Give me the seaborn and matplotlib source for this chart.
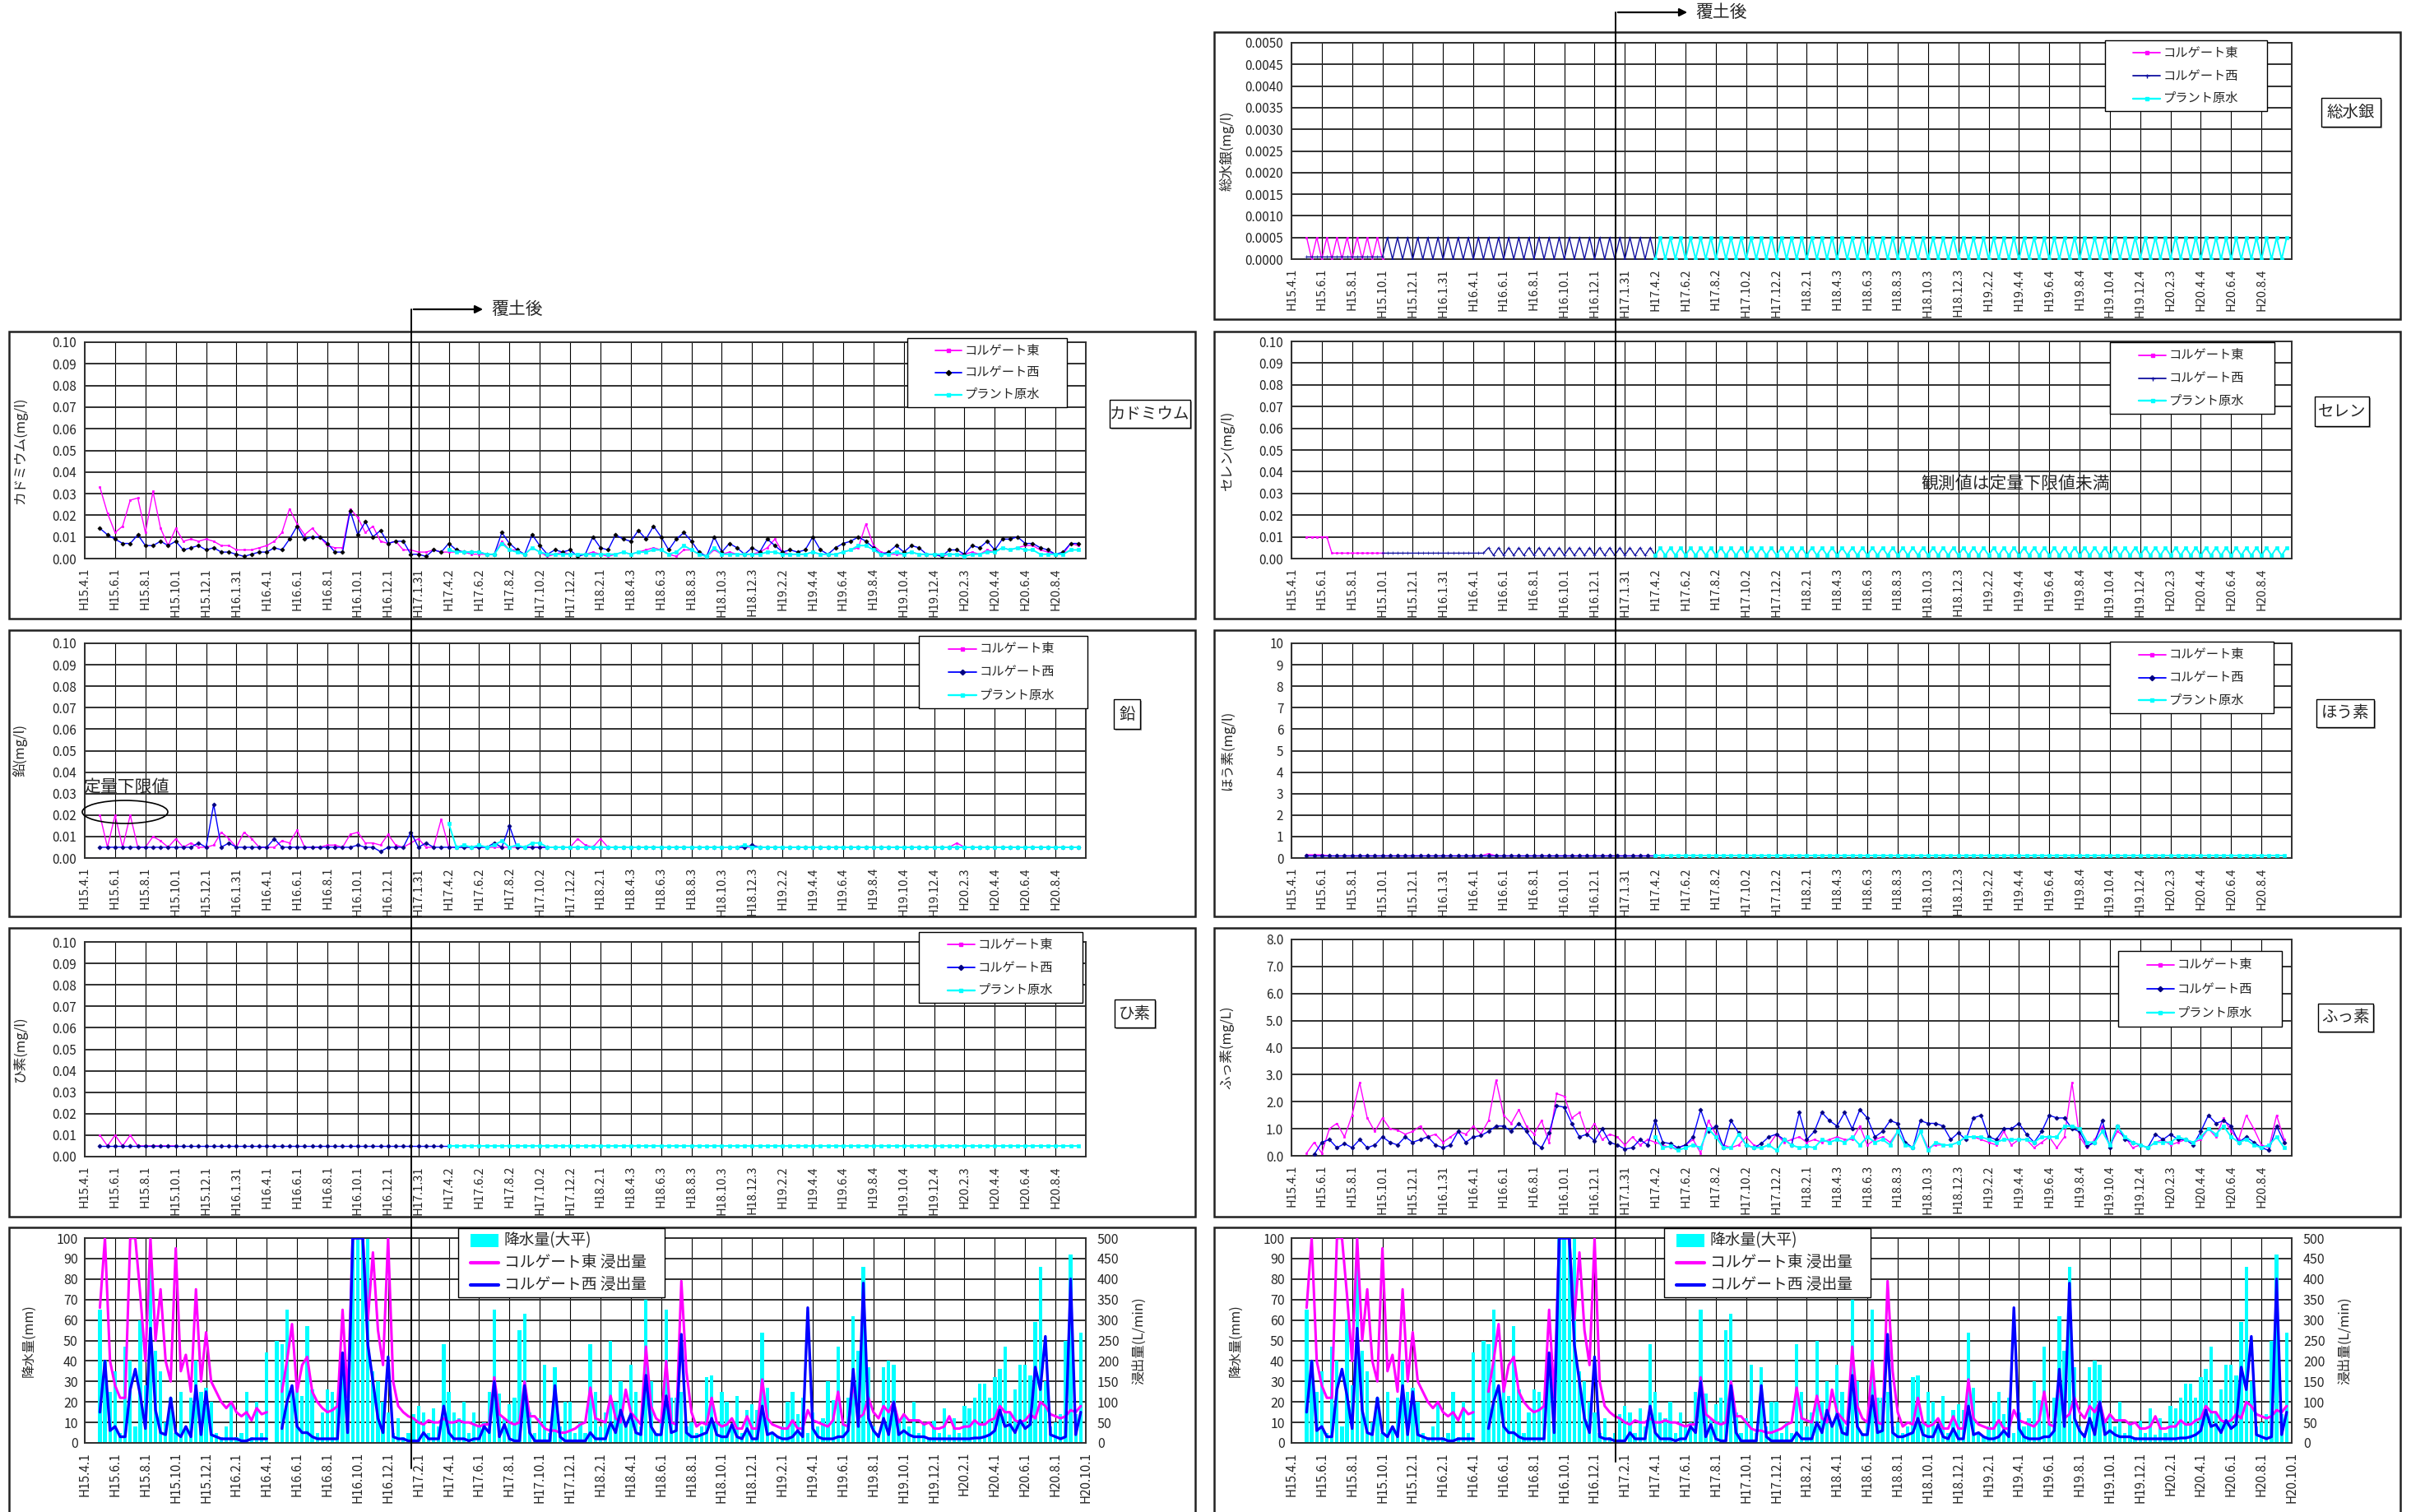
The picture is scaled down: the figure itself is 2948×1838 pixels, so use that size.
"""
Leachate monitoring sheet: heavy metals at the two Colgate outlets and the plant
raw water, plus daily rainfall and leachate flow (left and right columns).
"""

import matplotlib

matplotlib.use("Agg")
import matplotlib.pyplot as plt
import numpy as np
import seaborn as sns
from matplotlib.lines import Line2D
from matplotlib.patches import Ellipse, FancyArrowPatch, Rectangle
from matplotlib.ticker import FormatStrFormatter

sns.set_style("white")
plt.rcParams["font.family"] = ["Noto Sans CJK JP", "DejaVu Sans"]
plt.rcParams["axes.unicode_minus"] = False

nan = np.nan

# ---------------------------------------------------------------- labels
WQ_LABELS = [
    "H15.4.1", "H15.6.1", "H15.8.1", "H15.10.1", "H15.12.1", "H16.1.31",
    "H16.4.1", "H16.6.1", "H16.8.1", "H16.10.1", "H16.12.1", "H17.1.31",
    "H17.4.2", "H17.6.2", "H17.8.2", "H17.10.2", "H17.12.2", "H18.2.1",
    "H18.4.3", "H18.6.3", "H18.8.3", "H18.10.3", "H18.12.3", "H19.2.2",
    "H19.4.4", "H19.6.4", "H19.8.4", "H19.10.4", "H19.12.4", "H20.2.3",
    "H20.4.4", "H20.6.4", "H20.8.4",
]
RAIN_LABELS = [
    "H15.4.1", "H15.6.1", "H15.8.1", "H15.10.1", "H15.12.1", "H16.2.1",
    "H16.4.1", "H16.6.1", "H16.8.1", "H16.10.1", "H16.12.1", "H17.2.1",
    "H17.4.1", "H17.6.1", "H17.8.1", "H17.10.1", "H17.12.1", "H18.2.1",
    "H18.4.1", "H18.6.1", "H18.8.1", "H18.10.1", "H18.12.1", "H19.2.1",
    "H19.4.1", "H19.6.1", "H19.8.1", "H19.10.1", "H19.12.1", "H20.2.1",
    "H20.4.1", "H20.6.1", "H20.8.1", "H20.10.1",
]
SERIES_NAMES = ["コルゲート東", "コルゲート西", "プラント原水"]
RAIN_NAMES = ["降水量(大平)", "コルゲート東 浸出量", "コルゲート西 浸出量"]

# ---------------------------------------------------------------- cadmium (4 samples / label)
CD_EAST_START, CD_WEST_START, CD_PLANT_START = 2, 2, 48
CD_EAST = [
    0.033, 0.021, 0.012, 0.015, 0.027, 0.028, 0.012, 0.031, 0.014, 0.006,
    0.014, 0.008, 0.009, 0.008, 0.009, 0.008, 0.006, 0.006, 0.004, 0.004,
    0.004, 0.005, 0.006, 0.008, 0.012, 0.023, 0.016, 0.011, 0.014, 0.010,
    0.006, 0.005, 0.005, 0.023, 0.019, 0.012, 0.015, 0.008, 0.007, 0.008,
    0.004, 0.004, 0.003, 0.003, 0.004, 0.003, 0.003, 0.003, 0.003, 0.002,
    0.002, 0.002, 0.002, 0.008, 0.004, 0.004, 0.002, 0.005, 0.003, 0.001,
    0.002, 0.003, 0.002, 0.002, 0.002, 0.003, 0.002, 0.001, 0.002, 0.003,
    0.002, 0.003, 0.004, 0.005, 0.004, 0.002, 0.001, 0.004, 0.004, 0.002,
    0.001, 0.004, 0.002, 0.003, 0.002, 0.002, 0.002, 0.003, 0.005, 0.009,
    0.003, 0.002, 0.002, 0.002, 0.003, 0.002, 0.002, 0.002, 0.003, 0.004,
    0.005, 0.016, 0.006, 0.003, 0.002, 0.002, 0.002, 0.003, 0.002, 0.002,
    0.002, 0.001, 0.002, 0.002, 0.002, 0.003, 0.002, 0.004, 0.003, 0.005,
    0.004, 0.005, 0.006, 0.006, 0.004, 0.003, 0.002, 0.002, 0.007, 0.006,
]
CD_WEST = [
    0.014, 0.011, 0.009, 0.007, 0.007, 0.011, 0.006, 0.006, 0.008, 0.006,
    0.008, 0.004, 0.005, 0.006, 0.004, 0.005, 0.003, 0.003, 0.002, 0.001,
    0.002, 0.003, 0.003, 0.005, 0.004, 0.009, 0.015, 0.009, 0.010, 0.010,
    0.007, 0.003, 0.003, 0.022, 0.011, 0.017, 0.010, 0.013, 0.007, 0.008,
    0.008, 0.002, 0.002, 0.001, 0.004, 0.003, 0.007, 0.004, 0.003, 0.003,
    0.003, 0.002, 0.002, 0.012, 0.007, 0.004, 0.002, 0.011, 0.006, 0.002,
    0.004, 0.003, 0.004, 0.001, 0.002, 0.010, 0.005, 0.004, 0.011, 0.009,
    0.008, 0.013, 0.009, 0.015, 0.010, 0.004, 0.009, 0.012, 0.008, 0.003,
    0.001, 0.010, 0.003, 0.007, 0.005, 0.002, 0.005, 0.003, 0.009, 0.006,
    0.003, 0.004, 0.003, 0.004, 0.010, 0.004, 0.002, 0.005, 0.007, 0.008,
    0.010, 0.008, 0.005, 0.002, 0.003, 0.006, 0.003, 0.006, 0.005, 0.002,
    0.002, 0.001, 0.004, 0.004, 0.002, 0.006, 0.005, 0.008, 0.004, 0.009,
    0.009, 0.010, 0.007, 0.007, 0.005, 0.004, 0.002, 0.003, 0.007, 0.007,
]
CD_PLANT = [
    0.004, 0.003, 0.003, 0.003, 0.003, 0.002, 0.002, 0.007, 0.004, 0.003,
    0.002, 0.005, 0.003, 0.002, 0.002, 0.002, 0.002, 0.002, 0.002, 0.002,
    0.002, 0.002, 0.002, 0.003, 0.002, 0.003, 0.003, 0.004, 0.004, 0.002,
    0.003, 0.006, 0.004, 0.002, 0.001, 0.005, 0.002, 0.002, 0.002, 0.002,
    0.002, 0.002, 0.003, 0.003, 0.002, 0.002, 0.002, 0.002, 0.003, 0.002,
    0.002, 0.002, 0.003, 0.004, 0.006, 0.006, 0.004, 0.002, 0.002, 0.003,
    0.002, 0.003, 0.002, 0.002, 0.002, 0.002, 0.002, 0.002, 0.001, 0.002,
    0.002, 0.003, 0.003, 0.005, 0.004, 0.005, 0.004, 0.004, 0.002, 0.002,
    0.002, 0.002, 0.004, 0.004,
]

# ---------------------------------------------------------------- lead
PB_EAST_START, PB_WEST_START, PB_PLANT_START = 2, 2, 48
PB_EAST = [
    0.020, 0.005, 0.020, 0.005, 0.020, 0.005, 0.005, 0.010, 0.008, 0.005,
    0.009, 0.005, 0.007, 0.005, 0.005, 0.006, 0.012, 0.009, 0.005, 0.012,
    0.009, 0.005, 0.005, 0.005, 0.008, 0.007, 0.013, 0.005, 0.005, 0.005,
    0.006, 0.006, 0.005, 0.011, 0.012, 0.007, 0.007, 0.006, 0.011, 0.006,
    0.005, 0.007, 0.009, 0.005, 0.005, 0.018, 0.005, 0.005, 0.005, 0.005,
    0.005, 0.005, 0.005, 0.005, 0.005, 0.005, 0.005, 0.005, 0.005, 0.005,
    0.005, 0.005, 0.005, 0.009, 0.006, 0.005, 0.009, 0.005, 0.005, 0.005,
    0.005, 0.005, 0.005, 0.005, 0.005, 0.005, 0.005, 0.005, 0.005, 0.005,
    0.005, 0.005, 0.005, 0.005, 0.005, 0.005, 0.005, 0.005, 0.005, 0.005,
    0.005, 0.005, 0.005, 0.005, 0.005, 0.005, 0.005, 0.005, 0.005, 0.005,
    0.005, 0.005, 0.005, 0.005, 0.005, 0.005, 0.005, 0.005, 0.005, 0.005,
    0.005, 0.005, 0.005, 0.007, 0.005, 0.005, 0.005, 0.005, 0.005, 0.005,
    0.005, 0.005, 0.005, 0.005, 0.005, 0.005, 0.005, 0.005, 0.005, 0.005,
]
PB_WEST = [
    0.005, 0.005, 0.005, 0.005, 0.005, 0.005, 0.005, 0.005, 0.005, 0.005,
    0.005, 0.005, 0.005, 0.007, 0.005, 0.025, 0.005, 0.007, 0.005, 0.005,
    0.005, 0.005, 0.005, 0.009, 0.005, 0.005, 0.005, 0.005, 0.005, 0.005,
    0.005, 0.005, 0.005, 0.005, 0.006, 0.005, 0.005, 0.003, 0.005, 0.005,
    0.005, 0.012, 0.005, 0.007, 0.005, 0.005, 0.005, 0.005, 0.005, 0.005,
    0.005, 0.005, 0.007, 0.005, 0.015, 0.005, 0.005, 0.005, 0.005, 0.005,
    0.005, 0.005, 0.005, 0.005, 0.005, 0.005, 0.005, 0.005, 0.005, 0.005,
    0.005, 0.005, 0.005, 0.005, 0.005, 0.005, 0.005, 0.005, 0.005, 0.005,
    0.005, 0.005, 0.005, 0.005, 0.005, 0.005, 0.006, 0.005, 0.005, 0.005,
    0.005, 0.005, 0.005, 0.005, 0.005, 0.005, 0.005, 0.005, 0.005, 0.005,
    0.005, 0.005, 0.005, 0.005, 0.005, 0.005, 0.005, 0.005, 0.005, 0.005,
    0.005, 0.005, 0.005, 0.005, 0.005, 0.005, 0.005, 0.005, 0.005, 0.005,
    0.005, 0.005, 0.005, 0.005, 0.005, 0.005, 0.005, 0.005, 0.005, 0.005,
]
PB_PLANT = [
    0.016, 0.005, 0.006, 0.005, 0.006, 0.005, 0.006, 0.008, 0.005, 0.006,
    0.005, 0.007, 0.007, 0.005, 0.005, 0.005, 0.005, 0.005, 0.005, 0.005,
    0.005, 0.005, 0.005, 0.005, 0.005, 0.005, 0.005, 0.005, 0.005, 0.005,
    0.005, 0.005, 0.005, 0.005, 0.005, 0.005, 0.005, 0.005, 0.005, 0.006,
    0.005, 0.005, 0.005, 0.005, 0.005, 0.005, 0.005, 0.005, 0.005, 0.005,
    0.005, 0.005, 0.005, 0.005, 0.005, 0.005, 0.005, 0.005, 0.005, 0.005,
    0.005, 0.005, 0.005, 0.005, 0.005, 0.005, 0.005, 0.005, 0.005, 0.005,
    0.005, 0.005, 0.005, 0.005, 0.005, 0.005, 0.005, 0.005, 0.005, 0.005,
    0.005, 0.005, 0.005, 0.005,
]

# ---------------------------------------------------------------- arsenic
AS_EAST_START, AS_WEST_START, AS_PLANT_START = 2, 2, 48
AS_EAST = [0.010, 0.005, 0.010, 0.005, 0.010, 0.005, 0.005, 0.005, 0.005, 0.005, 0.005]
AS_WEST = [
    0.005, 0.005, 0.005, 0.005, 0.005, 0.005, 0.005, 0.005, 0.005, 0.005,
    0.005, 0.005, 0.005, 0.005, 0.005, 0.005, 0.005, 0.005, 0.005, 0.005,
    0.005, 0.005, 0.005, 0.005, 0.005, 0.005, 0.005, 0.005, 0.005, 0.005,
    0.005, 0.005, 0.005, 0.005, 0.005, 0.005, 0.005, 0.005, 0.005, 0.005,
    0.005, 0.005, 0.005, 0.005, 0.005, 0.005, 0.005,
]
AS_PLANT = [
    0.005, 0.005, 0.005, 0.005, 0.005, 0.005, 0.005, 0.005, 0.005, 0.005,
    0.005, 0.005, 0.005, 0.005, 0.005, 0.005, 0.005, 0.005, 0.005, 0.005,
    0.005, 0.005, 0.005, 0.005, 0.005, 0.005, 0.005, 0.005, 0.005, 0.005,
    0.005, 0.005, 0.005, 0.005, 0.005, 0.005, 0.005, 0.005, 0.005, 0.005,
    0.005, 0.005, 0.005, 0.005, 0.005, 0.005, 0.005, 0.005, 0.005, 0.005,
    0.005, 0.005, 0.005, 0.005, 0.005, 0.005, 0.005, 0.005, 0.005, 0.005,
    0.005, 0.005, 0.005, 0.005, 0.005, 0.005, 0.005, 0.005, 0.005, 0.005,
    0.005, 0.005, 0.005, 0.005, 0.005, 0.005, 0.005, 0.005, 0.005, 0.005,
    0.005, 0.005, 0.005, 0.005,
]

# ---------------------------------------------------------------- boron
B_EAST_START, B_WEST_START, B_PLANT_START = 2, 2, 48
B_EAST = [
    0.15, 0.15, 0.15, 0.1, 0.1, 0.1, 0.1, 0.1, 0.1, 0.1,
    0.1, 0.1, 0.1, 0.1, 0.1, 0.1, 0.1, 0.1, 0.1, 0.1,
    0.1, 0.1, 0.1, 0.1, 0.2, 0.1, 0.1, 0.1, 0.1, 0.1,
    0.1, 0.1, 0.1, 0.1, 0.1, 0.1, 0.1, 0.1, 0.1, 0.1,
    0.1, 0.1, 0.1, 0.1, 0.1, 0.1, 0.1,
]
B_WEST = [
    0.1, 0.1, 0.1, 0.1, 0.1, 0.1, 0.1, 0.1, 0.1, 0.1,
    0.1, 0.1, 0.1, 0.1, 0.1, 0.1, 0.1, 0.1, 0.1, 0.1,
    0.1, 0.1, 0.1, 0.1, 0.1, 0.1, 0.1, 0.1, 0.1, 0.1,
    0.1, 0.1, 0.1, 0.1, 0.1, 0.1, 0.1, 0.1, 0.1, 0.1,
    0.1, 0.1, 0.1, 0.1, 0.1, 0.1, 0.1,
]
B_PLANT = [
    0.1, 0.1, 0.1, 0.1, 0.1, 0.1, 0.1, 0.1, 0.1, 0.1,
    0.1, 0.1, 0.1, 0.1, 0.1, 0.1, 0.1, 0.1, 0.1, 0.1,
    0.1, 0.1, 0.1, 0.1, 0.1, 0.1, 0.1, 0.1, 0.1, 0.1,
    0.1, 0.1, 0.1, 0.1, 0.1, 0.1, 0.1, 0.1, 0.1, 0.1,
    0.1, 0.1, 0.1, 0.1, 0.1, 0.1, 0.1, 0.1, 0.1, 0.1,
    0.1, 0.1, 0.1, 0.1, 0.1, 0.1, 0.1, 0.1, 0.1, 0.1,
    0.1, 0.1, 0.1, 0.1, 0.1, 0.1, 0.1, 0.1, 0.1, 0.1,
    0.1, 0.1, 0.1, 0.1, 0.1, 0.1, 0.1, 0.1, 0.1, 0.1,
    0.1, 0.1, 0.1, 0.1,
]

# ---------------------------------------------------------------- fluorine
F_EAST_START, F_WEST_START, F_PLANT_START = 2, 3, 48
F_EAST = [
    0.1, 0.5, 0.1, 1.0, 1.2, 0.7, 1.5, 2.7, 1.4, 0.9,
    1.4, 1.0, 0.95, 0.8, 0.9, 1.1, 0.7, 0.8, 0.5, 0.7,
    0.9, 0.8, 1.1, 0.8, 1.3, 2.8, 1.5, 1.2, 1.7, 1.1,
    0.8, 1.3, 0.5, 2.3, 2.2, 1.4, 1.6, 0.8, 1.2, 0.6,
    0.8, 0.7, 0.4, 0.7, 0.4, 0.6, 0.5, 0.4, 0.3, 0.3,
    0.4, 0.6, 0.1, 1.3, 0.8, 0.4, 0.3, 0.4, 0.7, 0.4,
    0.3, 0.4, 0.8, 0.5, 0.6, 0.7, 0.5, 0.6, 0.5, 0.6,
    0.7, 0.6, 0.6, 1.1, 0.4, 0.6, 0.7, 0.5, 0.9, 0.4,
    0.3, 0.9, 0.3, 0.4, 0.4, 0.4, 0.5, 0.7, 0.7, 0.6,
    0.5, 0.4, 0.9, 0.4, 0.6, 0.6, 0.3, 0.5, 0.7, 0.3,
    0.7, 2.7, 0.7, 0.3, 0.6, 1.1, 0.4, 0.9, 0.7, 0.3,
    0.4, 0.3, 0.5, 0.6, 0.4, 0.5, 0.6, 0.5, 0.6, 1.0,
    0.7, 1.4, 0.9, 0.6, 1.5, 1.0, 0.4, 0.3, 1.5, 0.6,
]
F_WEST = [
    0.05, 0.5, 0.6, 0.3, 0.45, 0.3, 0.6, 0.3, 0.4, 0.7,
    0.5, 0.4, 0.7, 0.5, 0.6, 0.7, 0.4, 0.3, 0.4, 0.9,
    0.5, 0.7, 0.75, 0.9, 1.1, 1.1, 0.9, 1.2, 0.9, 0.5,
    0.3, 0.85, 1.85, 1.8, 1.2, 0.7, 0.8, 0.55, 1.0, 0.5,
    0.4, 0.25, 0.3, 0.6, 0.4, 1.3, 0.5, 0.45, 0.3, 0.4,
    0.7, 1.7, 0.9, 1.1, 0.3, 1.3, 0.85, 0.4, 0.3, 0.45,
    0.7, 0.8, 0.6, 0.4, 1.6, 0.6, 0.9, 1.6, 1.3, 1.1,
    1.6, 1.0, 1.7, 1.4, 0.7, 0.9, 1.3, 1.2, 0.5, 0.3,
    1.3, 1.2, 1.2, 1.1, 0.6, 0.85, 0.6, 1.4, 1.5, 0.7,
    0.6, 1.0, 1.0, 1.2, 0.8, 0.5, 0.9, 1.5, 1.4, 1.4,
    1.0, 0.9, 0.35, 0.5, 1.3, 0.3, 1.1, 0.6, 0.5, 0.4,
    0.3, 0.8, 0.6, 0.8, 0.6, 0.6, 0.4, 0.9, 1.5, 1.2,
    1.3, 1.1, 0.5, 0.7, 0.5, 0.3, 0.2, 1.1, 0.5,
]
F_PLANT = [
    0.7, 0.3, 0.35, 0.2, 0.3, 0.4, 0.3, 1.0, 0.7, 0.3,
    0.3, 0.8, 0.4, 0.3, 0.3, 0.4, 0.2, 0.6, 0.4, 0.3,
    0.35, 0.3, 0.6, 0.5, 0.6, 0.5, 0.7, 0.4, 0.7, 0.5,
    0.6, 0.4, 0.9, 0.4, 0.3, 0.9, 0.2, 0.5, 0.4, 0.4,
    0.5, 0.7, 0.7, 0.7, 0.6, 0.5, 0.6, 0.6, 0.6, 0.6,
    0.5, 0.7, 0.7, 0.7, 1.1, 1.1, 1.0, 0.5, 0.5, 0.9,
    0.4, 1.1, 0.7, 0.5, 0.4, 0.3, 0.5, 0.5, 0.5, 0.7,
    0.6, 0.5, 0.7, 1.0, 0.8, 1.1, 0.7, 0.5, 0.6, 0.4,
    0.3, 0.4, 0.7, 0.3,
]

# ---------------------------------------------------------------- mercury (6 samples / label)
HG_EAST_START, HG_WEST_START, HG_PLANT_START = 3, 3, 72
HG_EAST = [
    0.0005, 0.0, 0.0005, 0.0, 0.0005, 0.0, 0.0005, 0.0,
    0.0005, 0.0, 0.0005, 0.0, 0.0005, 0.0, 0.0005, 0.0,
]
HG_WEST = [
    0.00005, 0.00005, 0.00005, 0.00005, 0.00005, 0.00005, 0.00005, 0.00005,
    0.00005, 0.00005, 0.00005, 0.00005, 0.00005, 0.00005, 0.00005, 0.00005,
    0.0005, 0.0, 0.0005, 0.0, 0.0005, 0.0, 0.0005, 0.0, 0.0005, 0.0,
    0.0005, 0.0, 0.0005, 0.0, 0.0005, 0.0, 0.0005, 0.0, 0.0005, 0.0,
    0.0005, 0.0, 0.0005, 0.0, 0.0005, 0.0, 0.0005, 0.0, 0.0005, 0.0,
    0.0005, 0.0, 0.0005, 0.0, 0.0005, 0.0, 0.0005, 0.0, 0.0005, 0.0,
    0.0005, 0.0, 0.0005, 0.0, 0.0005, 0.0, 0.0005, 0.0, 0.0005, 0.0,
    0.0005, 0.0, 0.0005, 0.0,
]
HG_PLANT = [
    0.0, 0.0005, 0.0, 0.0005, 0.0, 0.0005, 0.0, 0.0005, 0.0, 0.0005,
    0.0, 0.0005, 0.0, 0.0005, 0.0, 0.0005, 0.0, 0.0005, 0.0, 0.0005,
    0.0, 0.0005, 0.0, 0.0005, 0.0, 0.0005, 0.0, 0.0005, 0.0, 0.0005,
    0.0, 0.0005, 0.0, 0.0005, 0.0, 0.0005, 0.0, 0.0005, 0.0, 0.0005,
    0.0, 0.0005, 0.0, 0.0005, 0.0, 0.0005, 0.0, 0.0005, 0.0, 0.0005,
    0.0, 0.0005, 0.0, 0.0005, 0.0, 0.0005, 0.0, 0.0005, 0.0, 0.0005,
    0.0, 0.0005, 0.0, 0.0005, 0.0, 0.0005, 0.0, 0.0005, 0.0, 0.0005,
    0.0, 0.0005, 0.0, 0.0005, 0.0, 0.0005, 0.0, 0.0005, 0.0, 0.0005,
    0.0, 0.0005, 0.0, 0.0005, 0.0, 0.0005, 0.0, 0.0005, 0.0, 0.0005,
    0.0, 0.0005, 0.0, 0.0005, 0.0, 0.0005, 0.0, 0.0005, 0.0, 0.0005,
    0.0, 0.0005, 0.0, 0.0005, 0.0, 0.0005, 0.0, 0.0005, 0.0, 0.0005,
    0.0, 0.0005, 0.0, 0.0005, 0.0, 0.0005, 0.0, 0.0005, 0.0, 0.0005,
    0.0, 0.0005, 0.0, 0.0005, 0.0, 0.0005,
]

# ---------------------------------------------------------------- selenium
SE_EAST_START, SE_WEST_START, SE_PLANT_START = 3, 18, 72
SE_EAST = [
    0.010, 0.010, 0.010, 0.010, 0.010, 0.0025, 0.0025, 0.0025,
    0.0025, 0.0025, 0.0025, 0.0025, 0.0025, 0.0025, 0.0025, 0.0025,
]
SE_WEST = [
    0.0025, 0.0025, 0.0025, 0.0025, 0.0025, 0.0025, 0.0025, 0.0025, 0.0025, 0.0025,
    0.0025, 0.0025, 0.0025, 0.0025, 0.0025, 0.0025, 0.0025, 0.0025, 0.0025, 0.0025,
    0.0025,
    0.005, 0.0015, 0.005, 0.0015, 0.005, 0.0015, 0.005, 0.0015, 0.005, 0.0015,
    0.005, 0.0015, 0.005, 0.0015, 0.005, 0.0015, 0.005, 0.0015, 0.005, 0.0015,
    0.005, 0.0015, 0.005, 0.0015, 0.005, 0.0015, 0.005, 0.0015, 0.005, 0.0015,
    0.005, 0.0015, 0.005, 0.0015,
]
SE_PLANT = [
    0.0015, 0.005, 0.0015, 0.005, 0.0015, 0.005, 0.0015, 0.005, 0.0015, 0.005,
    0.0015, 0.005, 0.0015, 0.005, 0.0015, 0.005, 0.0015, 0.005, 0.0015, 0.005,
    0.0015, 0.005, 0.0015, 0.005, 0.0015, 0.005, 0.0015, 0.005, 0.0015, 0.005,
    0.0015, 0.005, 0.0015, 0.005, 0.0015, 0.005, 0.0015, 0.005, 0.0015, 0.005,
    0.0015, 0.005, 0.0015, 0.005, 0.0015, 0.005, 0.0015, 0.005, 0.0015, 0.005,
    0.0015, 0.005, 0.0015, 0.005, 0.0015, 0.005, 0.0015, 0.005, 0.0015, 0.005,
    0.0015, 0.005, 0.0015, 0.005, 0.0015, 0.005, 0.0015, 0.005, 0.0015, 0.005,
    0.0015, 0.005, 0.0015, 0.005, 0.0015, 0.005, 0.0015, 0.005, 0.0015, 0.005,
    0.0015, 0.005, 0.0015, 0.005, 0.0015, 0.005, 0.0015, 0.005, 0.0015, 0.005,
    0.0015, 0.005, 0.0015, 0.005, 0.0015, 0.005, 0.0015, 0.005, 0.0015, 0.005,
    0.0015, 0.005, 0.0015, 0.005, 0.0015, 0.005, 0.0015, 0.005, 0.0015, 0.005,
    0.0015, 0.005, 0.0015, 0.005, 0.0015, 0.005, 0.0015, 0.005, 0.0015, 0.005,
    0.0015, 0.005, 0.0015, 0.005, 0.0015, 0.005,
]

# ---------------------------------------------------------------- rainfall (mm) and leachate (L/min), 6 samples / label
RAIN_MM = [
    0, 0, 0, 65, 40, 25, 35, 5, 47, 40,
    8, 60, 28, 90, 45, 35, 10, 22, 5, 25,
    8, 22, 40, 25, 27, 20, 5, 3, 8, 20,
    3, 5, 25, 3, 20, 5, 44, 0, 50, 48,
    65, 25, 30, 23, 57, 26, 5, 15, 26, 25,
    20, 40, 10, 100, 100, 100, 100, 35, 30, 20,
    15, 5, 12, 3, 5, 14, 18, 15, 5, 17,
    8, 48, 25, 15, 12, 20, 5, 15, 8, 10,
    25, 65, 24, 12, 19, 22, 55, 63, 15, 5,
    12, 38, 5, 37, 8, 20, 20, 5, 10, 5,
    48, 25, 8, 15, 50, 20, 30, 10, 38, 25,
    8, 70, 30, 5, 10, 65, 22, 22, 25, 8,
    10, 5, 8, 32, 33, 10, 25, 20, 8, 23,
    5, 16, 19, 16, 54, 27, 5, 3, 8, 20,
    25, 14, 22, 5, 15, 8, 12, 30, 21, 47,
    10, 22, 62, 45, 86, 37, 8, 5, 37, 40,
    38, 10, 14, 8, 20, 5, 10, 3, 11, 5,
    17, 4, 12, 5, 18, 17, 22, 29, 29, 22,
    32, 36, 47, 15, 26, 38, 38, 33, 59, 86,
    30, 8, 10, 14, 50, 92, 14, 54,
]
EAST_FLOW = [
    nan, nan, nan, 330, 500, 200, 140, 110, 110, 500,
    500, 360, 200, 500, 250, 375, 200, 150, 475, 175,
    215, 125, 375, 150, 270, 150, 125, 100, 85, 100,
    75, 65, 75, 55, 85, 70, 75, nan, nan, 125,
    200, 290, 125, 190, 210, 125, 100, 85, 75, 80,
    90, 325, 110, 500, 500, 500, 300, 465, 275, 190,
    500, 150, 90, 75, 65, 60, 50, 45, 55, 50,
    50, 60, 50, 50, 55, 50, 50, 45, 40, 45,
    45, 160, 70, 60, 50, 45, 50, 150, 65, 65,
    50, 35, 30, 30, 25, 25, 30, 35, 45, 50,
    135, 60, 55, 50, 115, 60, 50, 130, 75, 60,
    45, 235, 90, 60, 50, 200, 50, 45, 395, 175,
    75, 40, 50, 45, 110, 50, 40, 45, 60, 35,
    35, 65, 35, 35, 155, 60, 45, 40, 35, 35,
    55, 35, 35, 80, 55, 50, 45, 40, 55, 125,
    45, 40, 150, 60, 70, 110, 75, 60, 90, 75,
    100, 50, 70, 55, 55, 55, 45, 50, 35, 35,
    40, 65, 35, 35, 40, 40, 55, 45, 45, 55,
    60, 90, 75, 75, 55, 50, 55, 70, 60, 100,
    90, 70, 65, 60, 65, 80, 75, 90,
]
WEST_FLOW = [
    nan, nan, nan, 75, 200, 30, 40, 15, 15, 130,
    180, 115, 35, 280, 80, 25, 20, 110, 25, 15,
    40, 15, 140, 20, 125, 20, 15, 10, 10, 10,
    10, 5, 5, 10, 10, 10, 10, nan, nan, 35,
    100, 140, 40, 25, 25, 15, 10, 10, 10, 10,
    10, 220, 25, 500, 500, 500, 240, 150, 60, 25,
    210, 15, 10, 10, 5, 5, 5, 25, 10, 10,
    10, 90, 25, 10, 10, 10, 5, 10, 10, 40,
    25, 150, 15, 45, 10, 5, 5, 140, 25, 5,
    5, 5, 5, 140, 15, 5, 5, 5, 5, 5,
    25, 10, 10, 10, 50, 25, 80, 40, 70, 25,
    20, 165, 40, 20, 20, 115, 25, 30, 265, 25,
    15, 15, 20, 25, 60, 20, 15, 15, 45, 15,
    10, 35, 10, 10, 90, 20, 25, 15, 10, 10,
    15, 30, 15, 330, 35, 15, 10, 10, 10, 15,
    15, 30, 180, 40, 390, 60, 30, 15, 60, 20,
    100, 20, 30, 20, 15, 15, 15, 10, 10, 10,
    10, 10, 10, 10, 10, 10, 12, 12, 15, 20,
    30, 80, 40, 45, 25, 55, 35, 45, 185, 130,
    260, 20, 15, 10, 15, 400, 20, 75,
]

# ---------------------------------------------------------------- styles
STYLE = {
    "east": dict(color="#FF00FF", lw=1.0, marker="s", ms=2.0, mfc="#FF00FF"),
    "west": dict(color="#0000FF", lw=1.0, marker="D", ms=2.6, mfc="#000080"),
    "west_cd": dict(color="#0000FF", lw=1.0, marker="D", ms=2.6, mfc="#000000"),
    "west_dark": dict(color="#1010A0", lw=1.0, marker="+", ms=3.0, mfc="#1010A0"),
    "plant": dict(color="#00FFFF", lw=1.4, marker="s", ms=2.8, mfc="#00FFFF"),
    "east_flow": dict(color="#FF00FF", lw=2.2),
    "west_flow": dict(color="#0000FF", lw=2.4),
}

W, H = 2948, 1838
fig = plt.figure(figsize=(W / 100, H / 100), dpi=100)


def fx(x):
    return x / W


def fy(y):
    return 1 - y / H


def add_axes_px(x0, y0, x1, y1):
    return fig.add_axes([fx(x0), fy(y1), (x1 - x0) / W, (y1 - y0) / H])


def rect_px(x0, y0, x1, y1, **kw):
    fig.add_artist(Rectangle((fx(x0), fy(y1)), (x1 - x0) / W, (y1 - y0) / H,
                             transform=fig.transFigure, **kw))


def draw_line(ax, start, values, st, zorder=3):
    ys = np.asarray(values, dtype=float)
    xs = np.arange(start, start + len(ys))
    ok = np.isfinite(ys).astype(int)
    # keep gaps open: plot each run of valid values separately
    edges = np.flatnonzero(np.diff(np.r_[0, ok, 0]))
    for a, b in zip(edges[::2], edges[1::2]):
        sns.lineplot(
            x=xs[a:b], y=ys[a:b], ax=ax, color=st["color"], linewidth=st["lw"],
            marker=st.get("marker"), markersize=st.get("ms", 0),
            markerfacecolor=st.get("mfc", st["color"]),
            markeredgecolor=st.get("mfc", st["color"]), markeredgewidth=0.5,
            estimator=None, sort=False, legend=False, zorder=zorder,
        )


def style_grid(ax):
    ax.set_axisbelow(True)
    ax.grid(axis="y", color="#303030", linewidth=1.4)
    ax.grid(axis="x", color="black", linewidth=0.8)
    for s in ax.spines.values():
        s.set_visible(True)
        s.set_color("#303030")
        s.set_linewidth(1.4)


def wq_panel(box, per, ylim, yticks, yfmt, ylabel, lines):
    ax = add_axes_px(*box)
    for start, vals, key in lines:
        draw_line(ax, start, vals, STYLE[key])
    n = len(WQ_LABELS)
    ax.set_xlim(0, per * n)
    ax.set_xticks(np.arange(n) * per)
    ax.set_xticklabels(WQ_LABELS, rotation=90, fontsize=10.5)
    ax.set_ylim(*ylim)
    ax.set_yticks(yticks)
    ax.yaxis.set_major_formatter(FormatStrFormatter(yfmt))
    ax.tick_params(axis="y", labelsize=11, length=0, pad=7)
    ax.tick_params(axis="x", length=0, pad=8)
    style_grid(ax)
    ax.set_xlabel("")
    ax.set_ylabel(ylabel, fontsize=12)
    ax.yaxis.set_label_coords(-0.057, 0.5)
    return ax


def wq_legend(box, keys):
    x0, y0, x1, y1 = box
    rect_px(x0, y0, x1, y1, facecolor="white", edgecolor="black", linewidth=1.0, zorder=6)
    w, h = x1 - x0, y1 - y0
    for i, (name, key) in enumerate(zip(SERIES_NAMES, keys)):
        st = STYLE[key]
        yc = y0 + h * (0.18 + 0.32 * i)
        a, b = x0 + 0.175 * w, x0 + 0.34 * w
        fig.add_artist(Line2D([fx(a), fx(b)], [fy(yc)] * 2, transform=fig.transFigure,
                              color=st["color"], linewidth=st["lw"] + 0.3, zorder=7))
        fig.add_artist(Line2D([fx((a + b) / 2)], [fy(yc)], transform=fig.transFigure,
                              marker=st["marker"], markersize=st["ms"] + 0.6,
                              markerfacecolor=st["mfc"], markeredgecolor=st["mfc"],
                              linestyle="none", zorder=8))
        fig.text(fx(x0 + 0.36 * w), fy(yc), name, fontsize=11, va="center", ha="left", zorder=8)


def title_box(box, text):
    x0, y0, x1, y1 = box
    rect_px(x0 + 2, y0 + 2, x1 + 2, y1 + 2, facecolor="#9a9a9a", edgecolor="none", zorder=5)
    rect_px(x0, y0, x1, y1, facecolor="white", edgecolor="black", linewidth=1.0, zorder=6)
    fig.text(fx((x0 + x1) / 2), fy((y0 + y1) / 2), text, fontsize=14,
             ha="center", va="center", zorder=7)


def rain_panel(box, legend_box):
    ax = add_axes_px(*box)
    xs = np.arange(len(RAIN_MM))
    ax.bar(xs, RAIN_MM, width=0.7, color="#00FFFF", linewidth=0, zorder=2)
    n = len(RAIN_LABELS)
    ax.set_xlim(0, 6 * (n - 1))
    ax.set_xticks(np.arange(n) * 6)
    ax.set_xticklabels(RAIN_LABELS, rotation=90, fontsize=11)
    ax.set_ylim(0, 100)
    ax.set_yticks(np.arange(0, 101, 10))
    ax.tick_params(axis="y", labelsize=11.5, length=0, pad=6)
    ax.tick_params(axis="x", length=0, pad=8)
    style_grid(ax)
    ax.set_ylabel("降水量(mm)", fontsize=11.5)
    ax.yaxis.set_label_coords(-0.049, 0.5)

    ax2 = ax.twinx()
    draw_line(ax2, 0, EAST_FLOW, STYLE["east_flow"])
    draw_line(ax2, 0, WEST_FLOW, STYLE["west_flow"])
    ax2.set_ylim(0, 500)
    ax2.set_yticks(np.arange(0, 501, 50))
    ax2.tick_params(axis="y", labelsize=11.5, length=0, pad=10)
    ax2.grid(False)
    for s in ax2.spines.values():
        s.set_visible(False)
    ax2.set_ylabel("浸出量(L/min)", fontsize=12)
    ax2.yaxis.set_label_coords(1.046, 0.5)

    x0, y0, x1, y1 = legend_box
    rect_px(x0, y0, x1, y1, facecolor="white", edgecolor="black", linewidth=1.0, zorder=6)
    w, h = x1 - x0, y1 - y0
    for i, name in enumerate(RAIN_NAMES):
        yc = y0 + h * (0.18 + 0.32 * i)
        if i == 0:
            rect_px(x0 + 0.06 * w, yc - 8, x0 + 0.195 * w, yc + 8,
                    facecolor="#00FFFF", edgecolor="none", zorder=7)
        else:
            st = STYLE["east_flow" if i == 1 else "west_flow"]
            fig.add_artist(Line2D([fx(x0 + 0.06 * w), fx(x0 + 0.195 * w)], [fy(yc)] * 2,
                                  transform=fig.transFigure, color=st["color"],
                                  linewidth=3.0, zorder=7))
        fig.text(fx(x0 + 0.223 * w), fy(yc), name, fontsize=13.5, va="center", ha="left", zorder=8)


# ---------------------------------------------------------------- outer panel frames
for frame in [
    (1476, 39, 2918, 388),
    (11, 403, 1453, 752), (1476, 403, 2918, 752),
    (11, 766, 1453, 1114), (1476, 766, 2918, 1114),
    (11, 1128, 1453, 1479), (1476, 1128, 2918, 1479),
    (11, 1492, 1453, 1860), (1476, 1492, 2918, 1860),
]:
    rect_px(*frame, facecolor="none", edgecolor="#222222", linewidth=1.8, zorder=1)

LEFT_X = (103, 1320)
RIGHT_X = (1570, 2786)
PCT_TICKS = np.linspace(0, 0.1, 11)

# total mercury
wq_panel((RIGHT_X[0], 52, RIGHT_X[1], 315), 6, (0, 0.005), np.linspace(0, 0.005, 11), "%.4f",
         "総水銀(mg/l)",
         [(HG_EAST_START, HG_EAST, "east"), (HG_WEST_START, HG_WEST, "west_dark"),
          (HG_PLANT_START, HG_PLANT, "plant")])
wq_legend((2559, 49, 2756, 135), ["east", "west_dark", "plant"])
title_box((2822, 119, 2894, 154), "総水銀")

# cadmium
wq_panel((LEFT_X[0], 416, LEFT_X[1], 679), 4, (0, 0.1), PCT_TICKS, "%.2f", "カドミウム(mg/l)",
         [(CD_EAST_START, CD_EAST, "east"), (CD_WEST_START, CD_WEST, "west_cd"),
          (CD_PLANT_START, CD_PLANT, "plant")])
wq_legend((1103, 411, 1297, 495), ["east", "west_cd", "plant"])
title_box((1349, 486, 1447, 520), "カドミウム")

# selenium
wq_panel((RIGHT_X[0], 415, RIGHT_X[1], 679), 6, (0, 0.1), PCT_TICKS, "%.2f", "セレン(mg/l)",
         [(SE_EAST_START, SE_EAST, "east"), (SE_WEST_START, SE_WEST, "west_dark"),
          (SE_PLANT_START, SE_PLANT, "plant")])
wq_legend((2565, 416, 2765, 503), ["east", "west_dark", "plant"])
title_box((2814, 482, 2880, 518), "セレン")
fig.text(fx(2335), fy(588), "観測値は定量下限値未満", fontsize=15, ha="left", va="center")

# lead
wq_panel((LEFT_X[0], 782, LEFT_X[1], 1043), 4, (0, 0.1), PCT_TICKS, "%.2f", "鉛(mg/l)",
         [(PB_EAST_START, PB_EAST, "east"), (PB_WEST_START, PB_WEST, "west"),
          (PB_PLANT_START, PB_PLANT, "plant")])
wq_legend((1117, 773, 1322, 861), ["east", "west", "plant"])
title_box((1354, 850, 1386, 886), "鉛")
fig.text(fx(101), fy(957), "定量下限値", fontsize=15, ha="left", va="center", zorder=6)
fig.add_artist(Ellipse((fx(152), fy(987)), 104 / W, 28 / H, transform=fig.transFigure,
                       facecolor="none", edgecolor="black", linewidth=1.2, zorder=6))

# boron
wq_panel((RIGHT_X[0], 782, RIGHT_X[1], 1043), 4, (0, 10), np.arange(0, 11, 1), "%d", "ほう素(mg/l)",
         [(B_EAST_START, B_EAST, "east"), (B_WEST_START, B_WEST, "west"),
          (B_PLANT_START, B_PLANT, "plant")])
wq_legend((2565, 780, 2764, 867), ["east", "west", "plant"])
title_box((2816, 850, 2886, 884), "ほう素")

# arsenic
wq_panel((LEFT_X[0], 1145, LEFT_X[1], 1406), 4, (0, 0.1), PCT_TICKS, "%.2f", "ひ素(mg/l)",
         [(AS_EAST_START, AS_EAST, "east"), (AS_WEST_START, AS_WEST, "west"),
          (AS_PLANT_START, AS_PLANT, "plant")])
wq_legend((1117, 1133, 1316, 1219), ["east", "west", "plant"])
title_box((1355, 1215, 1404, 1249), "ひ素")

# fluorine
wq_panel((RIGHT_X[0], 1142, RIGHT_X[1], 1405), 4, (0, 8), np.arange(0, 9, 1), "%.1f", "ふっ素(mg/L)",
         [(F_EAST_START, F_EAST, "east"), (F_WEST_START, F_WEST, "west"),
          (F_PLANT_START, F_PLANT, "plant")])
wq_legend((2575, 1156, 2774, 1248), ["east", "west", "plant"])
title_box((2818, 1220, 2885, 1254), "ふっ素")

# rainfall / leachate flow, same data in both columns
rain_panel((LEFT_X[0], 1505, LEFT_X[1], 1754), (557, 1493, 808, 1577))
rain_panel((RIGHT_X[0], 1505, RIGHT_X[1], 1754), (2023, 1493, 2274, 1577))

# "覆土後" markers: arrow plus vertical reference line through the columns
for (xl, ytop, ybot) in [(500, 376, 1785), (1964, 15, 1777)]:
    fig.add_artist(Line2D([fx(xl), fx(xl)], [fy(ytop), fy(ybot)], transform=fig.transFigure,
                          color="black", linewidth=1.4, zorder=9))
    fig.add_artist(FancyArrowPatch((fx(xl), fy(ytop)), (fx(xl + 90), fy(ytop)),
                                   transform=fig.transFigure, arrowstyle="-|>",
                                   mutation_scale=14, linewidth=1.6, color="black", zorder=9))
    fig.text(fx(xl + 97), fy(ytop), "覆土後", fontsize=15, ha="left", va="center", zorder=9)

fig.savefig("out.png", dpi=100)
